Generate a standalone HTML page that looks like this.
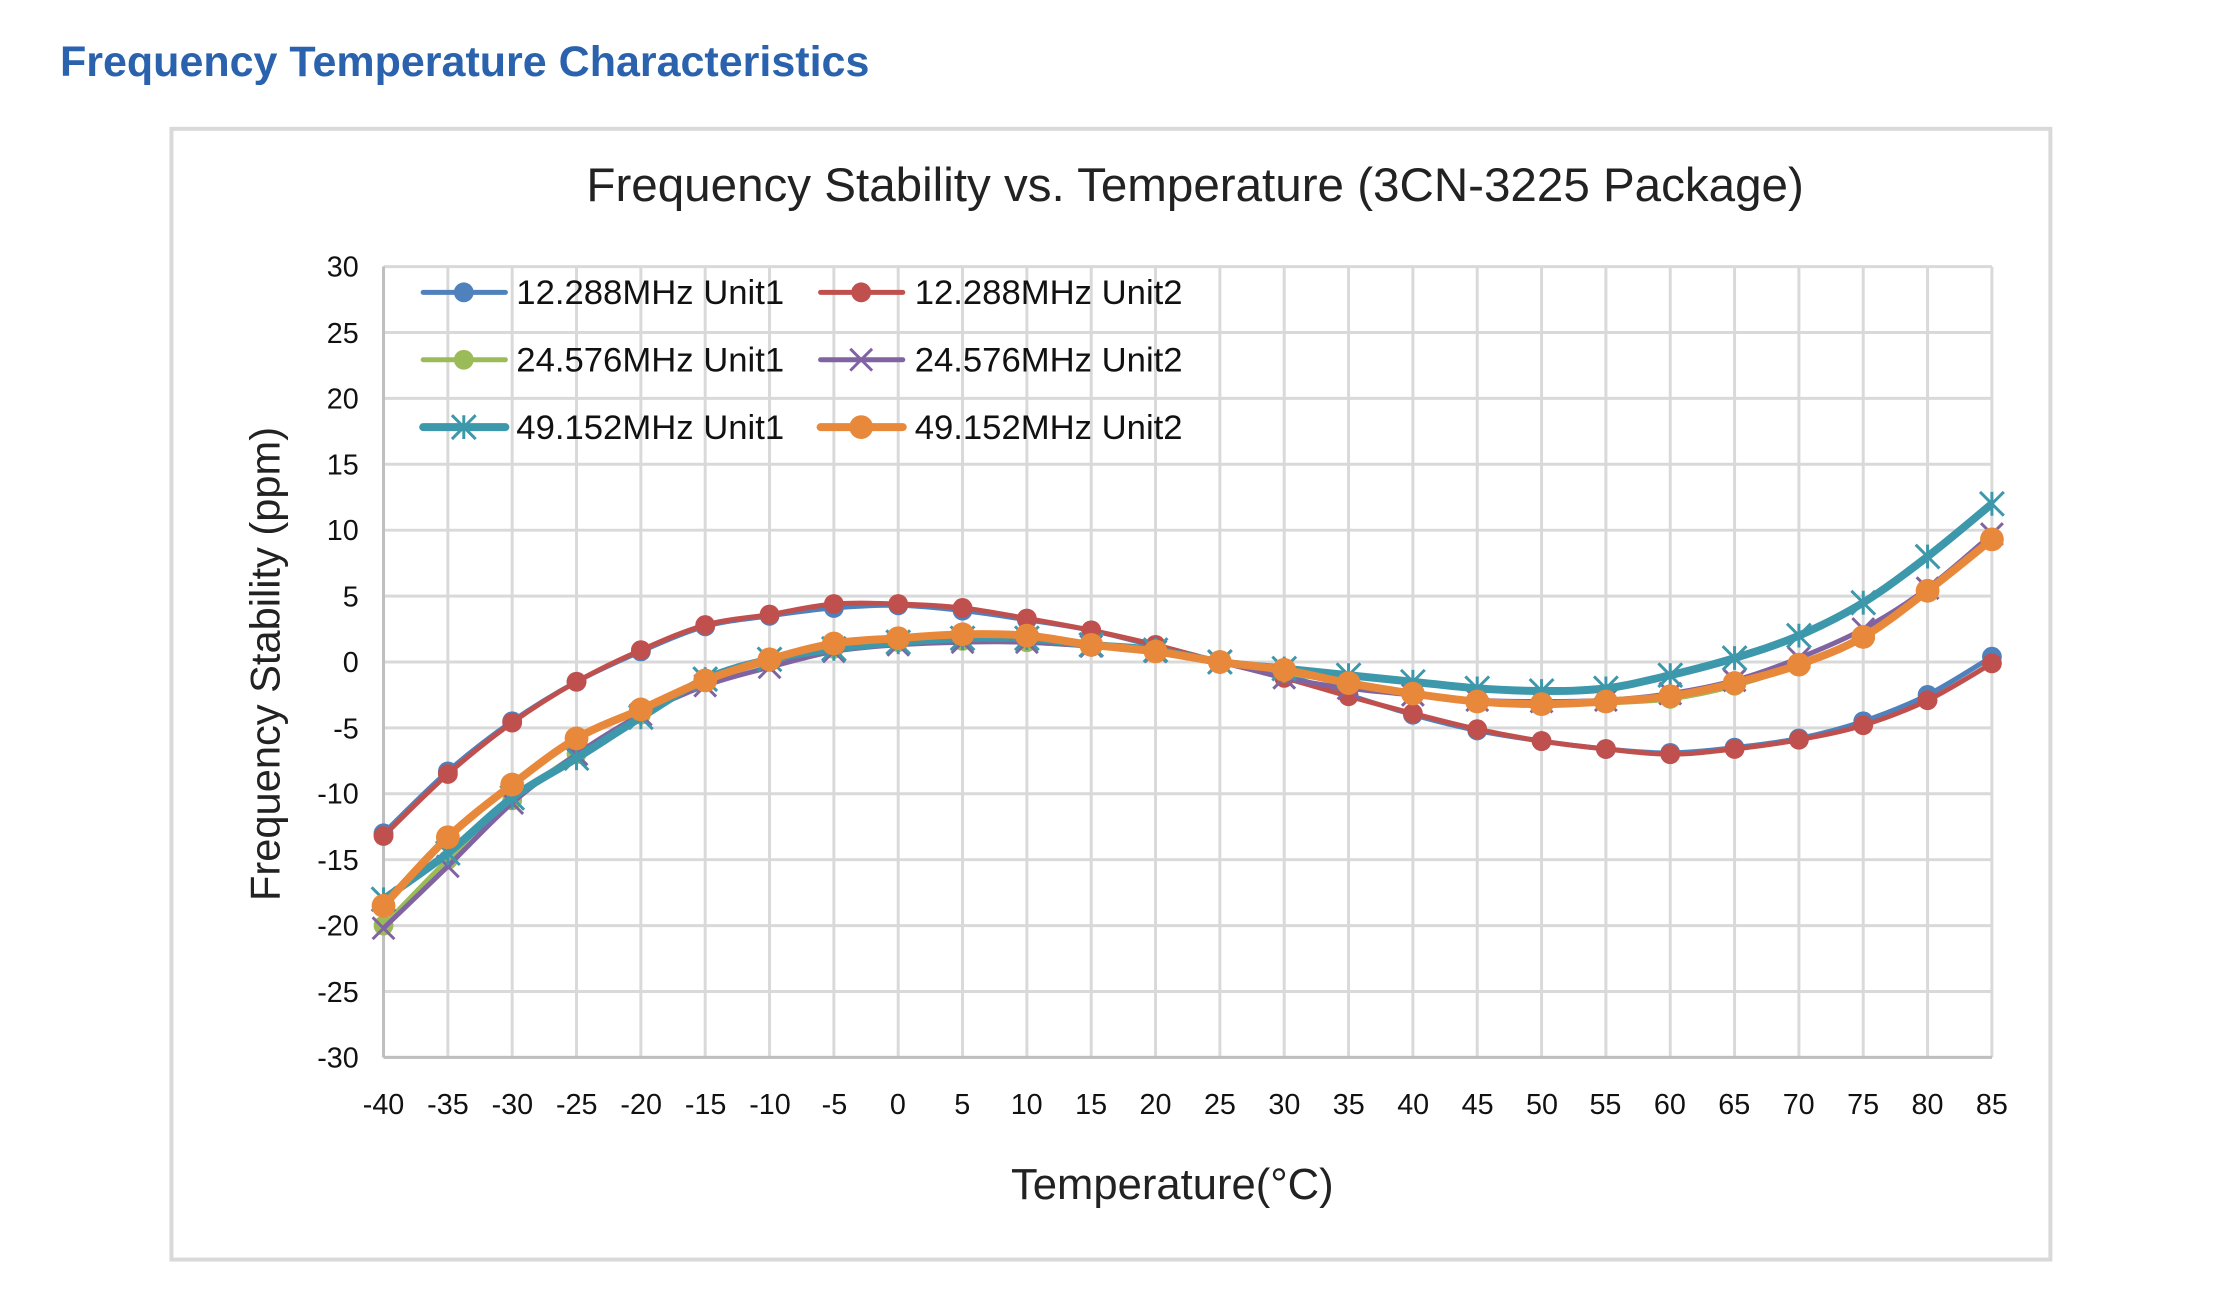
<!DOCTYPE html>
<html><head><meta charset="utf-8"><style>
html,body{margin:0;padding:0;background:#fff;}
svg{display:block;}
</style></head><body>
<svg id="s" width="2225" height="1312" viewBox="0 0 2225 1312" xmlns="http://www.w3.org/2000/svg" font-family="Liberation Sans, DejaVu Sans, sans-serif">
<text x="60" y="76" font-size="43" font-weight="bold" fill="#2a62ad">Frequency Temperature Characteristics</text>
<g transform="scale(0.991)">
<rect x="173" y="130" width="1896" height="1141" fill="#fff" stroke="#d9d9d9" stroke-width="4"/>
<text x="1206" y="203" font-size="48" text-anchor="middle" fill="#222">Frequency Stability vs. Temperature (3CN-3225 Package)</text>
<g id="grid"></g>
<g id="ylab" font-size="29" text-anchor="end" fill="#111">
<text x="362" y="279">30</text><text x="362" y="346">25</text><text x="362" y="412">20</text><text x="362" y="479">15</text><text x="362" y="545">10</text><text x="362" y="612">5</text><text x="362" y="678">0</text><text x="362" y="745">-5</text><text x="362" y="811">-10</text><text x="362" y="878">-15</text><text x="362" y="944">-20</text><text x="362" y="1011">-25</text><text x="362" y="1077">-30</text>
</g>
<g id="xlab" font-size="29" text-anchor="middle" fill="#111">
<text x="387" y="1124">-40</text><text x="452" y="1124">-35</text><text x="517" y="1124">-30</text><text x="582" y="1124">-25</text><text x="647" y="1124">-20</text><text x="712" y="1124">-15</text><text x="777" y="1124">-10</text><text x="842" y="1124">-5</text><text x="906" y="1124">0</text><text x="971" y="1124">5</text><text x="1036" y="1124">10</text><text x="1101" y="1124">15</text><text x="1166" y="1124">20</text><text x="1231" y="1124">25</text><text x="1296" y="1124">30</text><text x="1361" y="1124">35</text><text x="1426" y="1124">40</text><text x="1491" y="1124">45</text><text x="1556" y="1124">50</text><text x="1620" y="1124">55</text><text x="1685" y="1124">60</text><text x="1750" y="1124">65</text><text x="1815" y="1124">70</text><text x="1880" y="1124">75</text><text x="1945" y="1124">80</text><text x="2010" y="1124">85</text>
</g>
<text x="1183" y="1210" font-size="44" text-anchor="middle" fill="#222">Temperature(°C)</text>
<text transform="translate(282,670) rotate(-90)" font-size="42" text-anchor="middle" fill="#222">Frequency Stability (ppm)</text>
<g id="series"></g>
<g id="legend" font-size="35" fill="#111">
<text x="521" y="307">12.288MHz Unit1</text>
<text x="923" y="307">12.288MHz Unit2</text>
<text x="521" y="375">24.576MHz Unit1</text>
<text x="923" y="375">24.576MHz Unit2</text>
<text x="521" y="443">49.152MHz Unit1</text>
<text x="923" y="443">49.152MHz Unit2</text>
</g>
</g>
</svg>
<script>
const NS="http://www.w3.org/2000/svg";
const L=387,R=2010,T=269,B=1067;
const X=t=>L+(t+40)/125*(R-L), Y=v=>T+(30-v)/60*(B-T);
function el(p,tag,a){const e=document.createElementNS(NS,tag);for(const k in a)e.setAttribute(k,a[k]);p.appendChild(e);return e;}
const g=document.getElementById('grid');
for(let v=-30;v<=30;v+=5) el(g,'line',{x1:L,x2:R,y1:Y(v),y2:Y(v),stroke:'#d9d9d9','stroke-width':3});
for(let t=-40;t<=85;t+=5) el(g,'line',{x1:X(t),x2:X(t),y1:T,y2:B,stroke:'#d9d9d9','stroke-width':3});
el(g,'line',{x1:L,x2:L,y1:T,y2:B,stroke:'#bfbfbf','stroke-width':3});
el(g,'line',{x1:L,x2:R,y1:B,y2:B,stroke:'#bfbfbf','stroke-width':3});
const S=[
{c:'#4f81bd',w:5,m:'c',r:10,d:[-13,-8.3,-4.5,-1.5,0.8,2.7,3.5,4.1,4.3,3.9,3.2,2.4,1.2,0,-1,-2.5,-4,-5.2,-6,-6.6,-6.9,-6.5,-5.8,-4.5,-2.5,0.4]},
{c:'#c0504d',w:5,m:'c',r:10,d:[-13.2,-8.5,-4.6,-1.5,0.9,2.8,3.6,4.4,4.4,4.1,3.3,2.4,1.3,0,-1.2,-2.6,-3.9,-5.1,-6,-6.6,-7,-6.6,-5.9,-4.8,-2.9,-0.1]},
{c:'#9bbb59',w:5,m:'c',r:10,d:[-20,-15,-10.5,-7,-4,-1.5,0,1,1.5,1.6,1.5,1.2,0.8,0,-0.8,-1.6,-2.4,-3,-3.2,-3.1,-2.8,-1.8,-0.2,2,5.3,9.2]},
{c:'#8064a2',w:5,m:'x',r:11,d:[-20.2,-15.5,-10.7,-7,-4,-1.8,-0.4,0.8,1.3,1.5,1.5,1.2,0.8,0,-1.2,-2,-2.5,-2.9,-3,-2.9,-2.4,-1.4,0.3,2.5,5.6,9.7]},
{c:'#3d98ab',w:8,m:'*',r:12,d:[-18,-14.5,-10.3,-7.3,-4.2,-1.3,0.2,1,1.5,1.8,1.8,1.3,0.9,0,-0.5,-1,-1.5,-2,-2.2,-2,-1,0.3,2,4.5,8,12]},
{c:'#e8883a',w:8,m:'c',r:12,d:[-18.5,-13.3,-9.3,-5.8,-3.6,-1.4,0.2,1.4,1.8,2.1,2,1.3,0.8,0,-0.6,-1.6,-2.4,-3,-3.2,-3,-2.6,-1.6,-0.2,1.9,5.4,9.3]}
];
function marker(p,s,x,y){
 if(s.m=='c') el(p,'circle',{cx:x,cy:y,r:s.r,fill:s.c});
 else if(s.m=='x'){const r=s.r;el(p,'path',{d:`M${x-r} ${y-r}L${x+r} ${y+r}M${x-r} ${y+r}L${x+r} ${y-r}`,stroke:s.c,'stroke-width':3,fill:'none'});}
 else {const r=s.r;el(p,'path',{d:`M${x-r} ${y-r}L${x+r} ${y+r}M${x-r} ${y+r}L${x+r} ${y-r}M${x} ${y-r}L${x} ${y+r}`,stroke:s.c,'stroke-width':3,fill:'none'});}
}
const sg=document.getElementById('series');
S.forEach(s=>{
 const P=s.d.map((v,i)=>[X(-40+5*i),Y(v)]);
 let d=`M${P[0][0]} ${P[0][1]}`;
 for(let i=0;i<P.length-1;i++){
  const p0=P[Math.max(0,i-1)],p1=P[i],p2=P[i+1],p3=P[Math.min(P.length-1,i+2)];
  const c1=[p1[0]+(p2[0]-p0[0])/6,p1[1]+(p2[1]-p0[1])/6],c2=[p2[0]-(p3[0]-p1[0])/6,p2[1]-(p3[1]-p1[1])/6];
  d+=`C${c1[0]} ${c1[1]} ${c2[0]} ${c2[1]} ${p2[0]} ${p2[1]}`;
 }
 el(sg,'path',{d:d,stroke:s.c,'stroke-width':s.w,fill:'none','stroke-linejoin':'round'});
 P.forEach(p=>marker(sg,s,p[0],p[1]));
});
const lg=document.getElementById('legend');
const pos=[[427,295],[828,295],[427,363],[828,363],[427,431],[828,431]];
S.forEach((s,i)=>{const [x,y]=pos[i];el(lg,'line',{x1:x,x2:x+83,y1:y,y2:y,stroke:s.c,'stroke-width':s.w,'stroke-linecap':'round'});marker(lg,s,x+41,y);});
</script>
</body></html>
